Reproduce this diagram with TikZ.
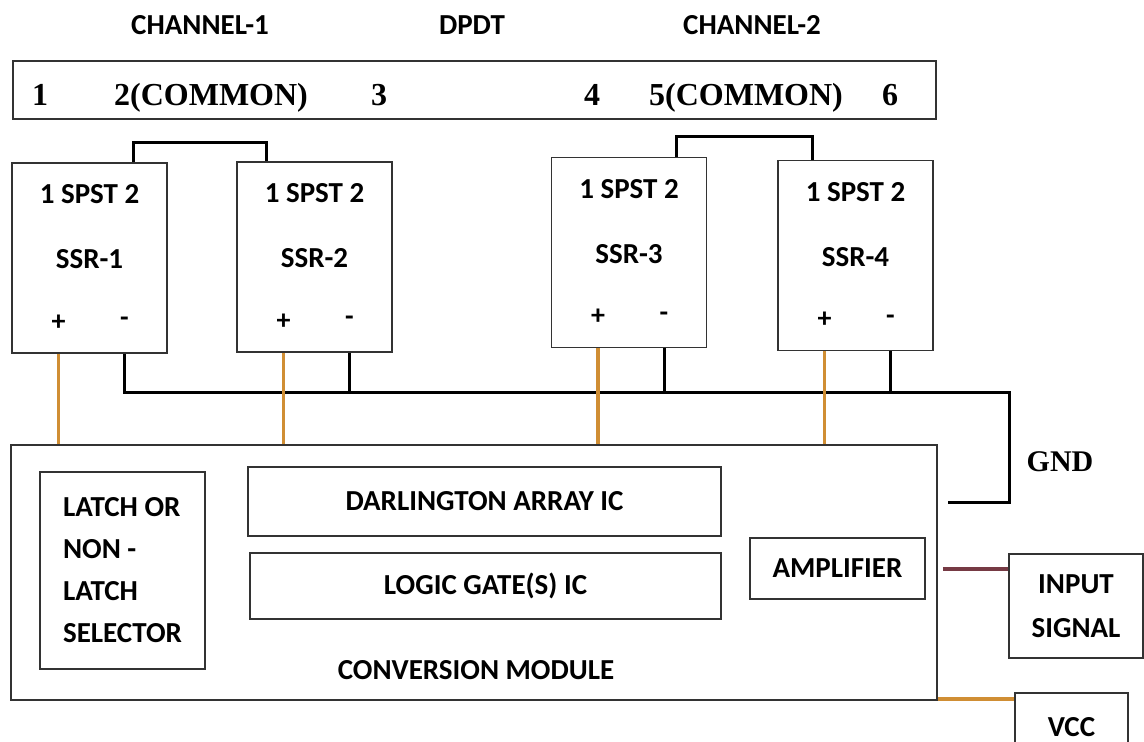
\documentclass[tikz,border=0pt]{standalone}
\usepackage{fontspec}
\setmainfont{Carlito}
\newfontfamily\timesfont{Liberation Serif}

\definecolor{wireorange}{RGB}{208,142,52}
\definecolor{wiremaroon}{RGB}{118,58,68}

\tikzset{
  box/.style={draw=black!80, line width=1.5pt, inner sep=0pt, font=\bfseries\fontsize{29}{42}\selectfont},
  lbl/.style={inner sep=0pt, font=\bfseries\fontsize{29}{42}\selectfont},
  pin/.style={inner sep=0pt, font=\bfseries\fontsize{28}{30}\selectfont},
  num/.style={inner sep=0pt, anchor=base, font=\timesfont\bfseries\fontsize{32}{36}\selectfont},
  wire/.style={line width=3pt, black},
  vwire/.style={line width=3.2pt, wireorange},
  swire/.style={line width=4pt, wiremaroon},
}

\begin{document}
\begin{tikzpicture}[x=1pt, y=-1pt]
    \useasboundingbox (0,0) rectangle (1144,742);

    % DPDT strip
    \node[lbl] (ch1) at (200,25) {CHANNEL-1};
    \node[lbl] (dpdtlbl) at (472,25) {DPDT};
    \node[lbl] (ch2) at (752,25) {CHANNEL-2};
    \node[box, line width=2.2pt, minimum width=923, minimum height=58] (dpdt) at (474.5,90) {};
    \node[num] (t1) at (40,105) {1};
    \node[num] (t2) at (211,105) {2(COMMON)};
    \node[num] (t3) at (379,105) {3};
    \node[num] (t4) at (592,105) {4};
    \node[num] (t5) at (746,105) {5(COMMON)};
    \node[num] (t6) at (890,105) {6};

    % solid state relays
    \foreach \n/\x/\y in {1/89.5/258, 2/314.5/257, 3/629/252.5, 4/855.5/255.5} {
        \node[box, minimum width=155, minimum height=190] (ssr\n) at (\x,\y) {};
        \node[lbl] (spst\n) at ([yshift=-32pt]ssr\n.north) {1 SPST 2};
        \node[lbl] (name\n) at ([yshift=-97pt]ssr\n.north) {SSR-\n};
        \node[pin] (plus\n) at ([xshift=-31pt, yshift=-160pt]ssr\n.north) {+};
        \node[pin] (minus\n) at ([xshift=35pt, yshift=-160pt]ssr\n.north) {-};
    }

    % conversion module
    \node[box, minimum width=926, minimum height=255] (conv) at (474,572.5) {};
    \node[box, minimum width=165, minimum height=197, align=left] (latch) at (122.5,570.5) {LATCH OR\\NON -\\LATCH\\SELECTOR};
    \node[box, minimum width=473, minimum height=69] (darl) at (484.5,501.5) {DARLINGTON ARRAY IC};
    \node[box, minimum width=471, minimum height=66] (logic) at (485.5,586) {LOGIC GATE(S) IC};
    \node[lbl] (convlbl) at (476,670) {CONVERSION MODULE};
    \node[box, minimum width=175, minimum height=61] (amp) at (837.5,568.5) {AMPLIFIER};

    % outside
    \node[num, anchor=center, font=\timesfont\bfseries\fontsize{30}{34}\selectfont] (gnd) at (1060,462) {GND};
    \node[box, minimum width=134, minimum height=104, align=center, font=\bfseries\fontsize{29}{44}\selectfont] (insig) at (1076,606) {INPUT\\SIGNAL};
    \node[box, minimum width=113, minimum height=68] (vcc) at (1071.5,727) {VCC};

    % common links
    \draw[wire] ([xshift=44pt]ssr1.north) -- ++(0,-20) -| ([xshift=-48pt]ssr2.north);
    \draw[wire] ([xshift=47pt]ssr3.north) -- ++(0,-20) -| ([xshift=-43pt]ssr4.north);

    % ground bus
    \coordinate (gndc) at (1009,392);
    \coordinate (gndend) at (948,502);
    \draw[wire] (minus1 |- ssr1.south) |- (gndc) |- (gndend);
    \foreach \n in {2,3,4}
        \draw[wire] (minus\n |- ssr\n.south) -- (minus\n |- gndc);

    % control lines
    \foreach \n in {1,2,3,4}
        \draw[vwire] (plus\n |- ssr\n.south) -- (plus\n |- conv.north);
    \draw[swire] ([xshift=5pt]conv.east |- amp.east) -- (insig.west |- amp.east);
    \coordinate (vccin) at ([yshift=2pt]conv.south east);
    \draw[vwire, line width=4pt] (vccin) -- (vccin -| vcc.west);
\end{tikzpicture}
\end{document}
